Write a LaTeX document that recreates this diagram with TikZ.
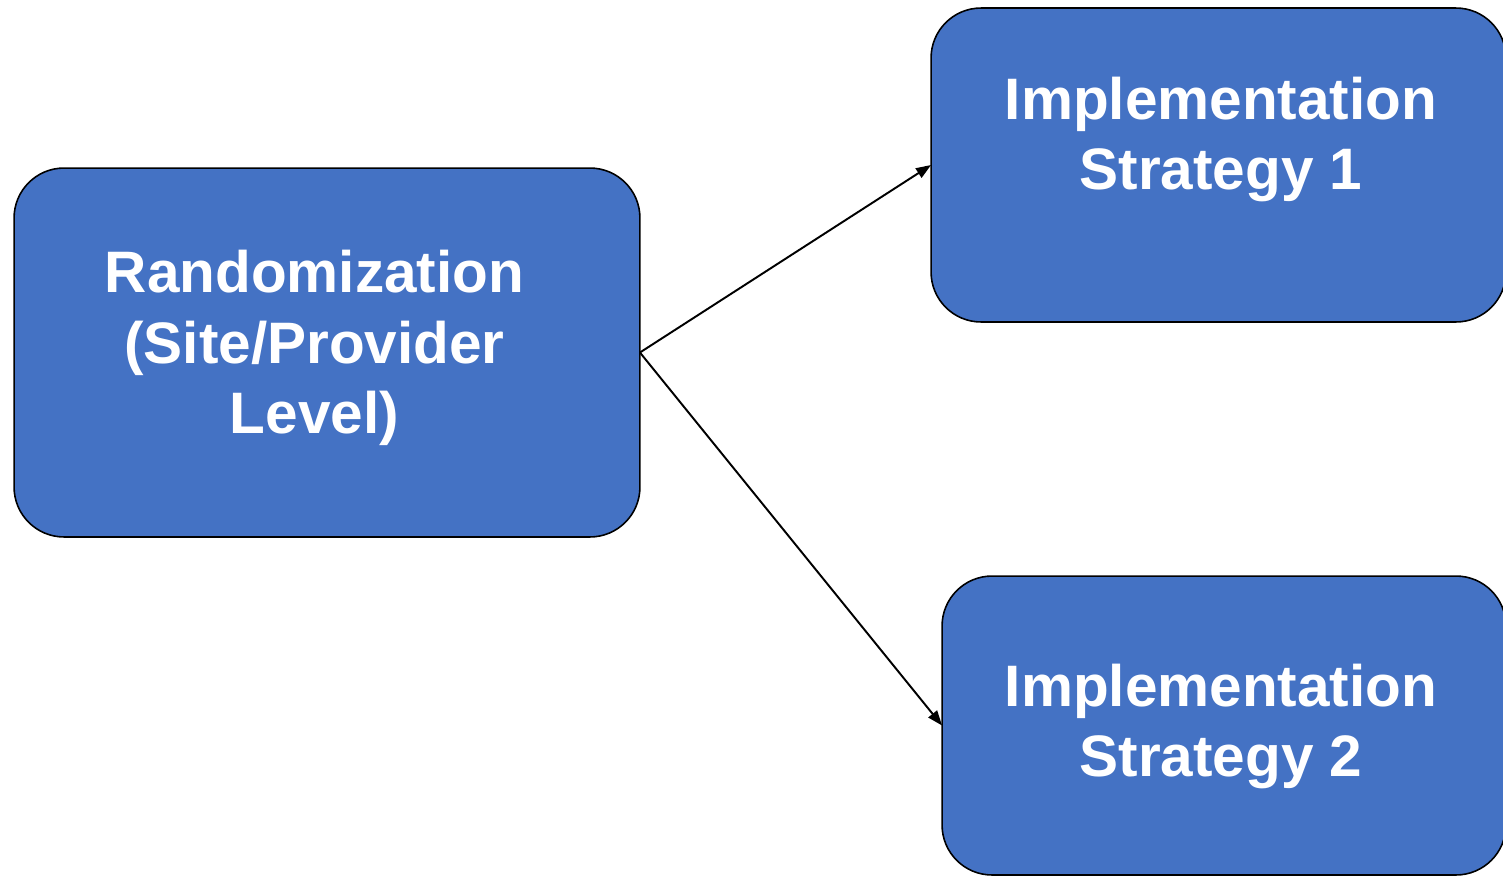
\documentclass[tikz,border=0pt]{standalone}
\usepackage{fontspec}
\setmainfont{Liberation Sans}
\usetikzlibrary{arrows.meta}
\definecolor{boxblue}{HTML}{4472C4}
\tikzset{
  bluebox/.style={draw=black, line width=0.9pt, fill=boxblue, rounded corners=1.0cm, inner sep=0pt, outer sep=0pt},
  boxtext/.style={text=white, align=center, inner sep=0pt, font=\fontsize{33.3}{40}\selectfont\bfseries},
  link/.style={draw=black, line width=1.1pt, -{Triangle[length=0.3cm,width=0.22cm]}}
}
\begin{document}
\begin{tikzpicture}[x=0.02cm,y=-0.02cm]
\useasboundingbox (0,0) rectangle (1503,876);
\node[bluebox, minimum width=12.52cm, minimum height=7.38cm] (L) at (327,352.5) {};
\node[bluebox, minimum width=11.5cm, minimum height=6.28cm] (T) at (1218.5,165) {};
\node[bluebox, minimum width=11.28cm, minimum height=5.98cm] (B) at (1224,725.5) {};
\node[boxtext] (Lt) at (314.5,348) {Randomization\\(Site/Provider\\Level)};
\node[boxtext] (Tt) at (1221,139.5) {Implementation\\Strategy 1};
\node[boxtext] (Bt) at (1221,726.5) {Implementation\\Strategy 2};
\draw[link] (L.east) -- (T.west);
\draw[link] (L.east) -- (B.west);
\end{tikzpicture}
\end{document}
